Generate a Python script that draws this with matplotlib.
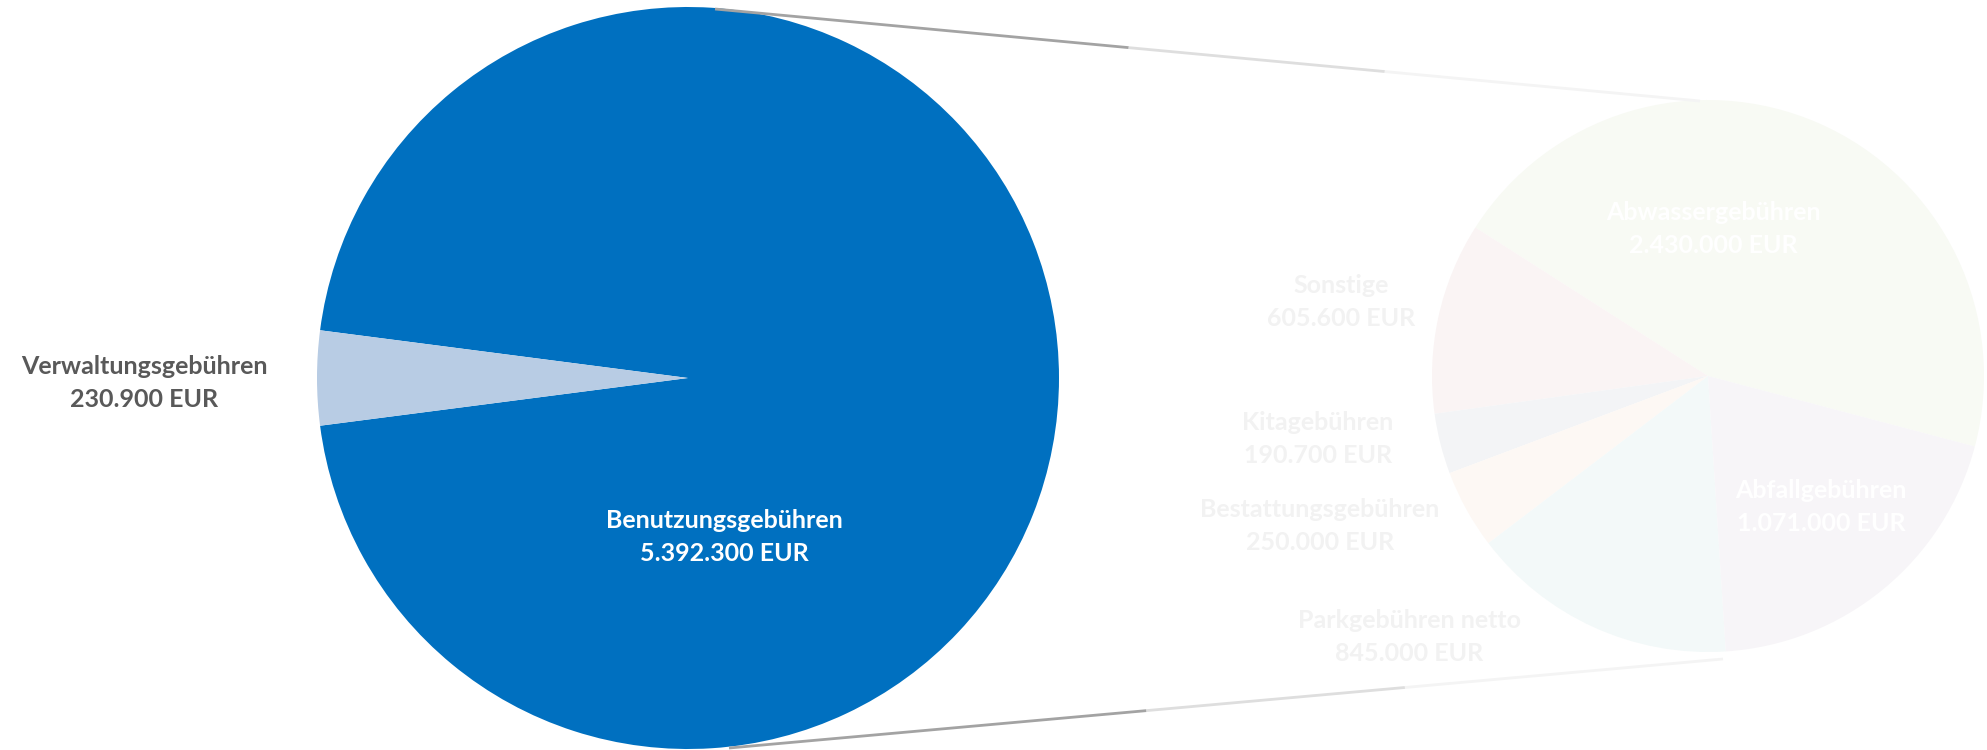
import matplotlib.pyplot as plt  # Zeichnen
import numpy as np  # Winkelrechnung

# Linkes Kreisdiagramm: Gebühren gesamt (EUR)
haupt_kategorien = ["Benutzungsgebühren", "Verwaltungsgebühren"]
haupt_werte = [5392300, 230900]
haupt_farben = ["#0070c0", "#b8cce4"]

# Rechtes Kreisdiagramm: Aufteilung der Benutzungsgebühren (EUR)
detail_kategorien = ["Abwassergebühren", "Sonstige", "Kitagebühren",
                     "Bestattungsgebühren", "Parkgebühren netto", "Abfallgebühren"]
detail_werte = [2430000, 605600, 190700, 250000, 845000, 1071000]
detail_farben = ["#f8faf4", "#faf4f4", "#f3f4f6", "#fdf8f4", "#f3f9f9", "#f7f5f8"]

FONT = "Lato"


def eur(wert):
    """Zahl im deutschen Format mit Tausenderpunkt."""
    return f"{wert:,.0f}".replace(",", ".") + " EUR"


def zeichne():
    fig = plt.figure(figsize=(19.87, 7.5), dpi=100)
    ax = fig.add_axes([0, 0, 1, 1])

    # linker Kreis, kleines Stück mittig links
    anteil_v = haupt_werte[1] / sum(haupt_werte)
    ax.pie(haupt_werte, colors=haupt_farben, center=(688, 372), radius=371,
           startangle=180 + anteil_v * 360 / 2, counterclock=True,
           wedgeprops=dict(linewidth=0), frame=True)

    # rechter Kreis (blass, wie ausgeblendet)
    ax.pie(detail_werte, colors=detail_farben, center=(1708, 374), radius=276,
           startangle=-14.8, counterclock=True,
           wedgeprops=dict(linewidth=0), frame=True)
    ax.set_xlim(0, 1987)
    ax.set_ylim(0, 750)
    ax.set_aspect("equal")
    ax.axis("off")

    # Verbindungslinien mit Verlauf (3 Stufen)
    oben = [(715, 741), (1700, 649)]
    unten = [(729, 2), (1723, 91)]
    stufen = [(0.0, 0.42, "#a3a3a3"), (0.42, 0.68, "#dedede"), (0.68, 1.0, "#f4f4f4")]
    for (x0, y0), (x1, y1) in (oben, unten):
        for a, b, farbe in stufen:
            ax.plot([x0 + a * (x1 - x0), x0 + b * (x1 - x0)],
                    [y0 + a * (y1 - y0), y0 + b * (y1 - y0)],
                    color=farbe, lw=2, solid_capstyle="butt")

    stil = dict(ha="center", va="center", fontsize=18, fontweight="bold",
                family=FONT, linespacing=1.55)

    # Beschriftungen links
    ax.text(144, 367, haupt_kategorien[1] + "\n" + eur(haupt_werte[1]),
            color="#595959", **stil)
    ax.text(724, 213, haupt_kategorien[0] + "\n" + eur(haupt_werte[0]),
            color="white", **stil)

    # Beschriftungen rechts (fast unsichtbar)
    positionen = [(1713, 521), (1341, 448), (1318, 311),
                  (1320, 224), (1409, 113), (1821, 243)]
    farben_text = ["#ffffff", "#f2f2f2", "#f2f2f2", "#f2f2f2", "#f2f2f2", "#ffffff"]
    for name, wert, (x, y), c in zip(detail_kategorien, detail_werte,
                                     positionen, farben_text):
        ax.text(x, y, name + "\n" + eur(wert), color=c, **stil)

    fig.savefig("out.png", dpi=100, facecolor="white")


def main():
    zeichne()


if __name__ == "__main__":
    main()
